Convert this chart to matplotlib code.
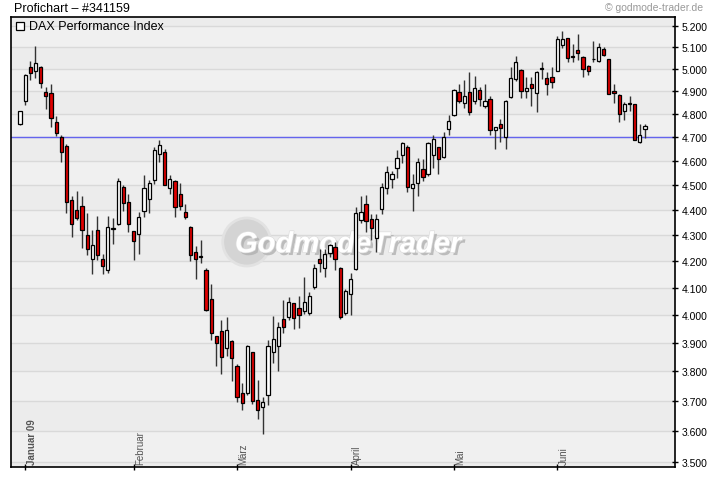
import numpy as np
import pandas as pd
import matplotlib
matplotlib.use('Agg')
import matplotlib.pyplot as plt
from matplotlib.patches import Rectangle, Ellipse
import matplotlib.patheffects as pe

plt.rcParams['font.family'] = ['Liberation Sans', 'DejaVu Sans']

# trading days (Xetra), Dec 30 2008 - Jun 24 2009
holidays = ['2008-12-31', '2009-01-01', '2009-04-10', '2009-04-13', '2009-05-01']
days = pd.bdate_range('2008-12-30', '2009-06-24')
days = days[~days.isin(pd.to_datetime(holidays))]

opens = [4756, 4860, 5012, 4994, 5012, 4899, 4894, 4767, 4703, 4662,
         4442, 4400, 4414, 4303, 4210, 4319, 4207, 4168, 4325, 4346,
         4494, 4431, 4315, 4307, 4395, 4445, 4522, 4628, 4636, 4490,
         4518, 4465, 4391, 4334, 4234, 4220, 4168, 4059, 3923, 3941,
         3882, 3908, 3817, 3726, 3726, 3866, 3702, 3679, 3719, 3866,
         3890, 3985, 3993, 4043, 4025, 4013, 4006, 4104, 4207, 4175,
         4230, 4256, 4175, 4006, 4077, 4172, 4360, 4426, 4363, 4291,
         4403, 4487, 4527, 4569, 4624, 4657, 4487, 4508, 4565, 4545,
         4624, 4657, 4615, 4738, 4795, 4899, 4851, 4899, 4856, 4908,
         4838, 4868, 4730, 4756, 4703, 4877, 4955, 4998, 4903, 4935,
         4894, 5001, 4962, 4966, 4994, 5112, 5144, 5062, 5089, 5057,
         5016, 5049, 5039, 5094, 5047, 4903, 4886, 4812, 4849, 4843,
         4682, 4734]
highs = [4815, 4980, 5039, 5108, 5015, 4920, 4932, 4794, 4710, 4671,
         4458, 4477, 4458, 4388, 4321, 4375, 4228, 4375, 4368, 4531,
         4501, 4464, 4318, 4392, 4543, 4522, 4658, 4687, 4650, 4542,
         4520, 4508, 4426, 4336, 4260, 4280, 4174, 4115, 3925, 3982,
         3993, 3910, 3824, 3760, 3894, 3868, 3770, 3713, 3910, 3996,
         3973, 4055, 4066, 4045, 4070, 4139, 4085, 4188, 4245, 4245,
         4268, 4275, 4177, 4094, 4154, 4410, 4458, 4462, 4383, 4383,
         4511, 4581, 4560, 4645, 4682, 4666, 4545, 4611, 4607, 4680,
         4711, 4660, 4724, 4795, 4912, 4932, 4950, 4986, 4968, 4922,
         4932, 4881, 4745, 4778, 4864, 5012, 5060, 5000, 4965, 4965,
         4992, 5034, 4989, 5012, 5153, 5176, 5146, 5116, 5162, 5060,
         5018, 5130, 5121, 5103, 5049, 4932, 4890, 4852, 4881, 4845,
         4756, 4756]
lows = [4752, 4840, 4952, 4961, 4916, 4823, 4744, 4708, 4595, 4387,
        4295, 4361, 4251, 4224, 4152, 4203, 4152, 4156, 4266, 4340,
        4397, 4313, 4203, 4228, 4373, 4389, 4505, 4597, 4500, 4465,
        4374, 4400, 4365, 4200, 4133, 4192, 4015, 3910, 3818, 3792,
        3853, 3768, 3696, 3668, 3720, 3690, 3640, 3589, 3686, 3830,
        3803, 3936, 3983, 3951, 3954, 4002, 3998, 4097, 4160, 4139,
        4215, 4168, 3985, 3998, 3999, 4165, 4350, 4313, 4280, 4234,
        4383, 4463, 4487, 4531, 4590, 4472, 4395, 4457, 4518, 4540,
        4569, 4548, 4611, 4712, 4790, 4847, 4829, 4795, 4845, 4834,
        4825, 4712, 4652, 4682, 4652, 4870, 4947, 4873, 4873, 4834,
        4808, 4955, 4886, 4917, 4990, 5099, 5034, 5034, 5043, 4965,
        4976, 5034, 5034, 5060, 4888, 4851, 4765, 4773, 4816, 4688,
        4675, 4698]
closes = [4812, 4976, 4983, 5030, 4940, 4881, 4785, 4717, 4636, 4431,
          4343, 4369, 4319, 4245, 4264, 4222, 4183, 4331, 4329, 4518,
          4428, 4343, 4276, 4372, 4490, 4511, 4645, 4666, 4503, 4525,
          4411, 4417, 4372, 4223, 4210, 4216, 4017, 3936, 3898, 3849,
          3945, 3847, 3713, 3693, 3890, 3699, 3670, 3696, 3888, 3915,
          3958, 3955, 4047, 3989, 3999, 4047, 4070, 4175, 4192, 4226,
          4264, 4207, 3992, 4088, 4133, 4387, 4391, 4357, 4328, 4363,
          4491, 4556, 4548, 4611, 4674, 4491, 4504, 4594, 4535, 4674,
          4695, 4607, 4703, 4771, 4908, 4856, 4881, 4808, 4917, 4868,
          4856, 4730, 4743, 4739, 4856, 4962, 5034, 4903, 4917, 4917,
          4989, 5005, 4935, 4944, 5139, 5139, 5052, 5058, 5075, 5002,
          4994, 5045, 5103, 5066, 4890, 4894, 4803, 4843, 4845, 4690,
          4712, 4747]

month_names = ['Januar 09', 'Februar', 'März', 'April', 'Mai', 'Juni']
level_line = 4700
y_ticks = list(range(3500, 5201, 100))

df = pd.DataFrame({'open': opens, 'high': highs, 'low': lows, 'close': closes}, index=days)
x = np.arange(len(df))

W, H = 720, 481
fig = plt.figure(figsize=(7.2, 4.81), dpi=100)
fig.patch.set_facecolor('white')
ax = fig.add_axes([11 / W, 1 - 468 / H, (675 - 11) / W, (468 - 18) / H])
ax.set_yscale('log')
ax.set_xlim(-1.74, 126.8)
ax.set_ylim(3484, 5243)
ax.set_facecolor('#eeeeee')

# zebra bands + grid
for i in range(len(y_ticks) - 1):
    col = '#f0f0f0' if i % 2 == 0 else '#ececec'
    ax.axhspan(y_ticks[i], y_ticks[i + 1], color=col, lw=0, zorder=0)
ax.axhspan(y_ticks[-1], 6000, color='#ececec', lw=0, zorder=0)
ax.axhspan(3000, y_ticks[0], color='#ececec', lw=0, zorder=0)
for t in y_ticks:
    ax.axhline(t, color='#d9d9d9', lw=1, zorder=0.5)

# watermark
ax.add_patch(Ellipse((0.355, 0.50), 48 / 664, 48 / 450, transform=ax.transAxes,
                     facecolor='#d4d4d4', edgecolor='#e2e2e2', lw=2, zorder=0.6))
ax.text(0.5075, 0.495, 'GodmodeTrader', transform=ax.transAxes, ha='center', va='center',
        fontsize=21, fontweight='bold', style='italic', color='white', zorder=0.7,
        path_effects=[pe.withSimplePatchShadow(offset=(2, -2), shadow_rgbFace='#b0b0b0', alpha=0.8),
                      pe.Stroke(linewidth=1, foreground='#dddddd'), pe.Normal()])

ax.axhline(level_line, color='#6464ee', lw=1, zorder=1)

# candles
up = df['close'] >= df['open']
ax.vlines(x, df['low'], df['high'], color='#333333', lw=1, zorder=2)
body_lo = np.minimum(df['open'], df['close'])
body_h = np.maximum(np.abs(df['close'] - df['open']), 1)
colors = np.where(up, 'white', '#e00000')
ax.bar(x, body_h, bottom=body_lo, width=0.62, color=colors, edgecolor='black',
       linewidth=0.9, zorder=3)

# y axis on right
ax.yaxis.tick_right()
ax.set_yticks(y_ticks)
ax.set_yticklabels([f'{t // 1000}.{t % 1000:03d}' for t in y_ticks], fontsize=7.5)
ax.yaxis.set_minor_locator(matplotlib.ticker.NullLocator())
ax.tick_params(axis='y', direction='inout', length=5, width=1, pad=2, colors='black')

# month ticks
month_start = [np.where(df.index.month == m)[0][0] for m in [1, 2, 3, 4, 5, 6]]
ax.set_xticks(month_start)
ax.set_xticklabels([])
ax.tick_params(axis='x', direction='inout', length=5, width=1)
for i, (pos, name) in enumerate(zip(month_start, month_names)):
    ax.annotate(name, (pos, 0), xycoords=('data', 'axes fraction'), xytext=(6.5, 3),
                textcoords='offset pixels', rotation=90, ha='center', va='bottom',
                fontsize=7, color='#555555', fontweight='bold' if i == 0 else 'normal')

for s in ax.spines.values():
    s.set_linewidth(1.2)
    s.set_color('black')

# header texts
fig.text(14 / W, 1 - 9 / H, 'Profichart – #341159', fontsize=9, va='center', ha='left')
fig.text(703 / W, 1 - 8 / H, '© godmode-trader.de', fontsize=7.5, va='center', ha='right',
         color='#999999')
fig.add_artist(Rectangle((16 / W, 1 - 31 / H), 8 / W, 8 / H, transform=fig.transFigure,
                         facecolor='white', edgecolor='black', lw=0.9))
fig.text(29 / W, 1 - 27 / H, 'DAX Performance Index', fontsize=9, va='center', ha='left')

fig.savefig('out.png', dpi=100)
